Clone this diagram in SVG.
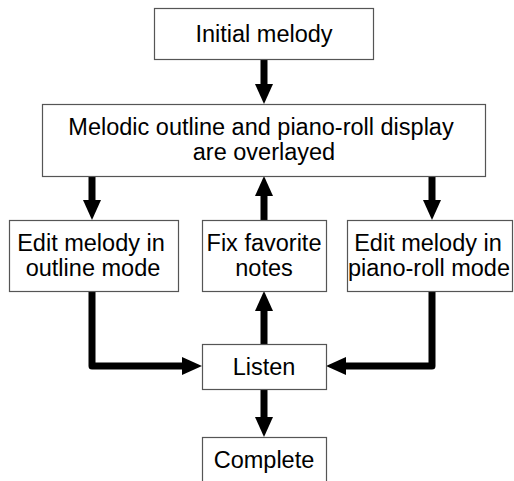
<svg xmlns="http://www.w3.org/2000/svg" width="514" height="481" viewBox="0 0 514 481">
<style>
.box{fill:#fff;stroke:#555;stroke-width:1.2}
.t{font-family:"Liberation Sans",Arial,sans-serif;font-size:23.5px;fill:#000;text-anchor:middle}
.c{fill:none;stroke:#000;stroke-width:7;stroke-linejoin:round;marker-end:url(#ah)}
</style>
<defs>
<marker id="ah" viewBox="0 0 20 18" refX="2" refY="9" markerWidth="20" markerHeight="18" markerUnits="userSpaceOnUse" orient="auto">
<path d="M0,0 L20,9 L0,18 z" fill="#000"/>
</marker>
</defs>
<rect width="514" height="481" fill="#fff"/>
<g id="connectors">
<path class="c" d="M264,59 V86"/>
<path class="c" d="M92,176 V202"/>
<path class="c" d="M432,176 V202"/>
<path class="c" d="M264,220 V194"/>
<path class="c" d="M264,344 V309"/>
<path class="c" d="M264,389 V419"/>
<path class="c" d="M92,291 V366 H184"/>
<path class="c" d="M432,291 V366 H344"/>
</g>
<g id="initial">
<rect class="box" x="154.5" y="8.5" width="219" height="51"/>
<text class="t" x="264" y="42">Initial melody</text>
</g>
<g id="overlay">
<rect class="box" x="42.5" y="104.5" width="443" height="72"/>
<text class="t" x="261" y="135">Melodic outline and piano-roll display</text>
<text class="t" x="264" y="160">are overlayed</text>
</g>
<g id="outline">
<rect class="box" x="9.5" y="220.5" width="169" height="71"/>
<text class="t" x="91" y="251">Edit melody in</text>
<text class="t" x="93" y="276">outline mode</text>
</g>
<g id="fix">
<rect class="box" x="202.5" y="220.5" width="124" height="71"/>
<text class="t" x="264" y="251">Fix favorite</text>
<text class="t" x="264" y="276">notes</text>
</g>
<g id="pianoroll">
<rect class="box" x="347.5" y="220.5" width="165" height="71"/>
<text class="t" x="428" y="251">Edit melody in</text>
<text class="t" x="429" y="276">piano-roll mode</text>
</g>
<g id="listen">
<rect class="box" x="202.5" y="344.5" width="124" height="45"/>
<text class="t" x="264" y="375">Listen</text>
</g>
<g id="complete">
<rect class="box" x="202.5" y="437.5" width="124" height="60"/>
<text class="t" x="264" y="468">Complete</text>
</g>
</svg>
